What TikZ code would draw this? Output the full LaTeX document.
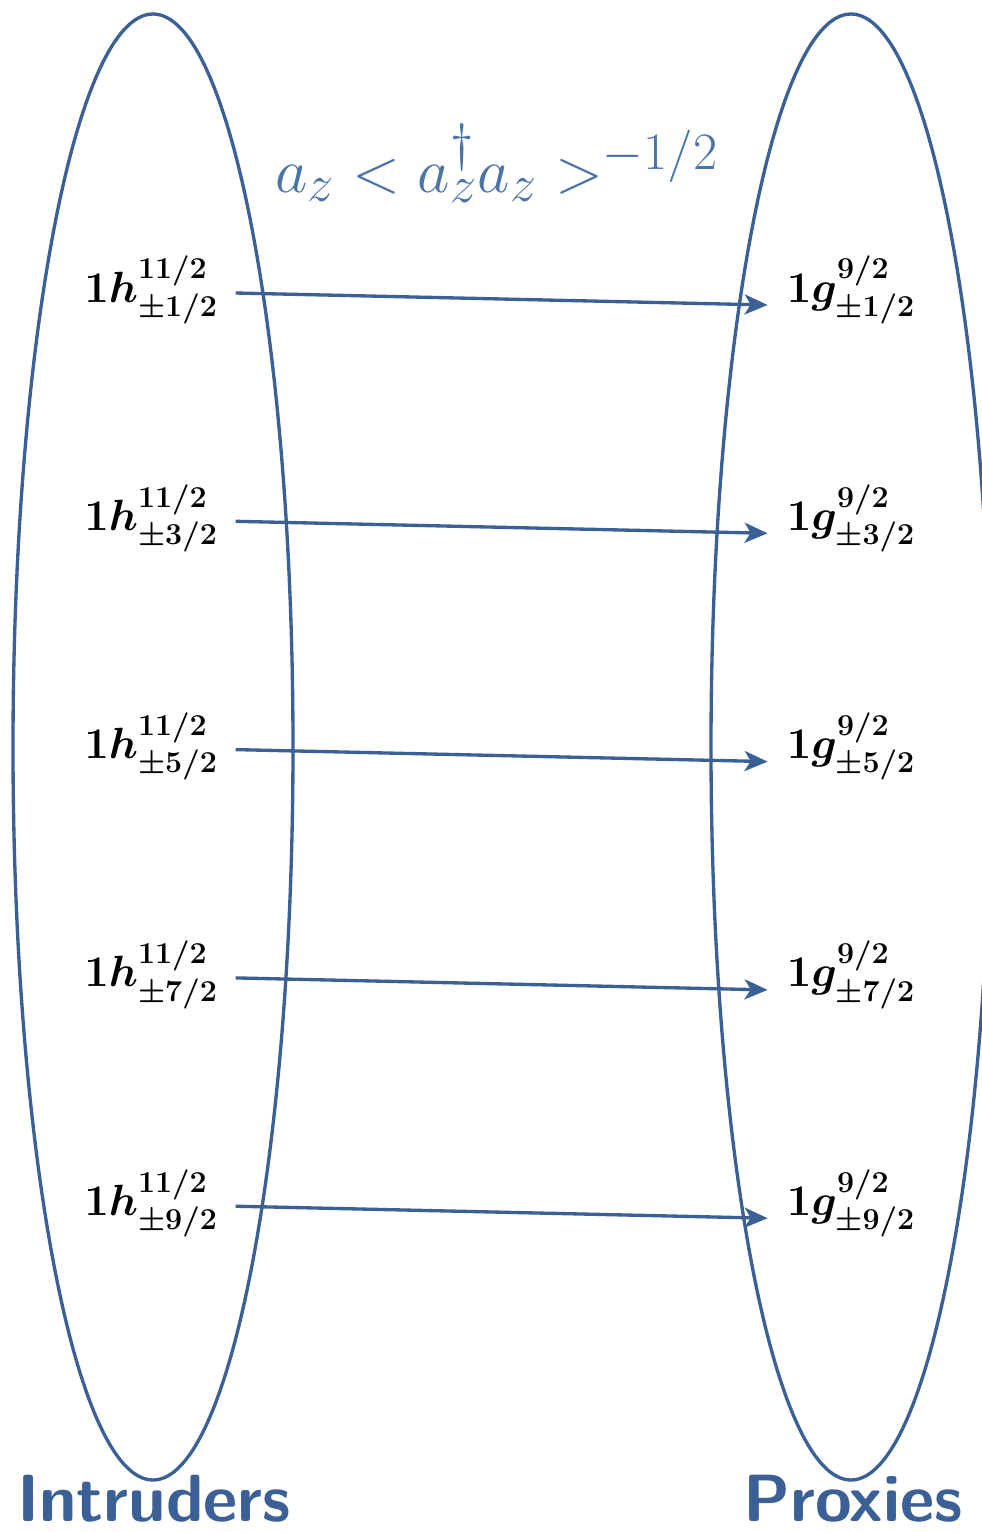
\documentclass[tikz,border=0pt]{standalone}
\usepackage{amsmath}
\usetikzlibrary{arrows.meta}
\definecolor{lineblue}{HTML}{3A6095}
\definecolor{formblue}{HTML}{4A73A8}
\begin{document}
\begin{tikzpicture}[x=0.02cm,y=-0.02cm,
  ring/.style={draw=lineblue,line width=1.9pt},
  lvl/.style={inner sep=0pt,font=\fontsize{23}{27}\selectfont\boldmath},
  conn/.style={draw=lineblue,line width=1.9pt,-{Stealth[length=0.46cm,width=0.4cm,inset=0.12cm]}},
  group/.style={inner sep=0pt,text=lineblue,font=\fontsize{38}{42}\selectfont\sffamily\bfseries}]
\clip (0,0) rectangle (982,1532);
\draw[ring] (153,747) ellipse [x radius=140, y radius=733];
\draw[ring] (851,747) ellipse [x radius=140, y radius=733];
\node[inner sep=0pt,anchor=base,text=formblue,font=\fontsize{24.88}{30}\selectfont,scale=1.44,transform shape] (f) at (497,192) {$a_z < a^{\dagger}_z a_z >^{-1/2}$};
\foreach \i/\m in {1/1,2/3,3/5,4/7,5/9}{
  \node[lvl] (h\i) at (151,{290+228.3*(\i-1)}) {$1h^{11/2}_{\pm\m/2}$};
  \node[lvl] (g\i) at (851,{290+228.3*(\i-1)}) {$1g^{9/2}_{\pm\m/2}$};
  \draw[conn] ([xshift=0.35cm,yshift=-0.06cm]h\i.east) -- ([xshift=-0.38cm,yshift=-0.3cm]g\i.west);
}
\node[group,anchor=base] (intr) at (154,1521) {Intruders};
\node[group,anchor=base] (prox) at (853,1521) {Proxies};
\end{tikzpicture}
\end{document}
